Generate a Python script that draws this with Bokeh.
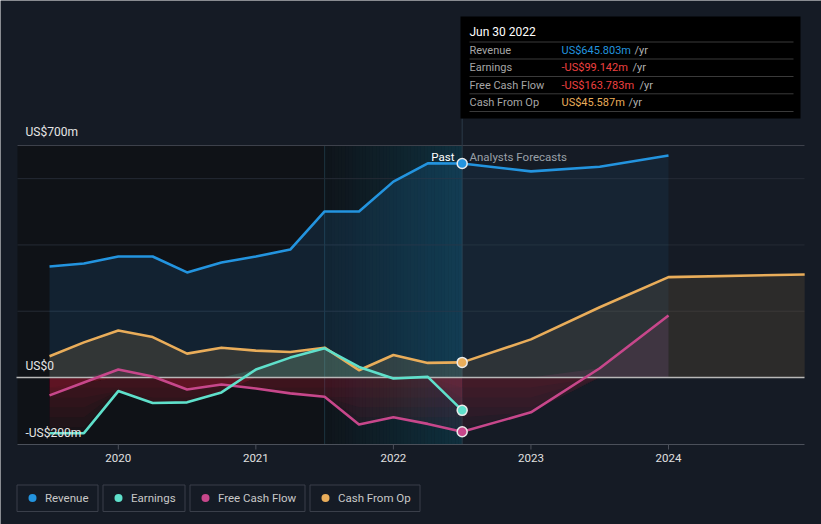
import numpy as np
from bokeh.plotting import figure
from bokeh.models import Range1d
from bokeh.embed import file_html
from bokeh.resources import INLINE
from bokeh.core.properties import value

# ---------------- data (US$ millions) ----------------
past_x = [2019.5, 2019.75, 2020.0, 2020.25, 2020.5, 2020.75, 2021.0,
          2021.25, 2021.5, 2021.75, 2022.0, 2022.25, 2022.5]
revenue_past = [335, 344, 365, 365, 317, 347, 365, 386, 501, 501, 591, 646, 645.803]
earnings_past = [-168, -168, -41, -77, -75, -45, 24, 60, 88, 32, -3, 2, -99.142]
fcf_past = [-54, -15, 24, 3, -36, -21, -33, -48, -58, -142, -120, -140, -163.783]
cfo_past = [64, 106, 142, 122, 72, 90, 81, 77, 90, 22, 68, 44, 45.587]

fc_x = [2022.5, 2023.0, 2023.5, 2024.0]
revenue_fc = [645.803, 622, 636, 670]
fcf_fc = [-163.783, -105, 28, 187]
cfo_fc_x = [2022.5, 2023.0, 2023.5, 2024.0, 2024.99]
cfo_fc = [45.587, 115, 212, 303, 311]

year_ticks = [2020, 2021, 2022, 2023, 2024]
year_labels = ["2020", "2021", "2022", "2023", "2024"]
y_label_vals = [700, 0, -200]
y_labels = ["US$700m", "US$0", "-US$200m"]
grid_vals = [200, 400, 600]

series_names = ["Revenue", "Earnings", "Free Cash Flow", "Cash From Op"]
tip_date = "Jun 30 2022"
tip_values = ["US$645.803m", "-US$99.142m", "-US$163.783m", "US$45.587m"]

# ---------------- style ----------------
BG = "#151b25"
PAST_BG = "#0f1217"
C_REV = "#2394df"
C_EARN = "#5fe0cb"
C_FCF = "#c7478b"
C_CFO = "#e9ad5a"
C_RED = "#c8283c"
FONT = value("Roboto")
colors = [C_REV, C_EARN, C_FCF, C_CFO]
tip_colors = [C_REV, "#ee4040", "#ee4040", C_CFO]

# pixel mapping helpers (page pixels -> data) used for layout placement
PX_2020 = 117.8
PX_PER_YEAR = 137.55
PY_ZERO = 377.0
PY_PER_M = 232.0 / 700.0


def X(px):
    return 2020 + (px - PX_2020) / PX_PER_YEAR


def Y(py):
    return (PY_ZERO - py) / PY_PER_M


W, H = 821, 524
L, R = X(17), X(804)          # plot area horizontal extent
B = Y(444)                    # plot area bottom (axis line)

p = figure(width=W, height=H, x_range=Range1d(X(0), X(W)), y_range=Range1d(Y(H), Y(0)),
           output_backend="svg", toolbar_location=None,
           x_axis_location=None, y_axis_location=None, min_border=0,
           background_fill_color=BG, border_fill_color=BG, outline_line_color=None)
p.grid.visible = False

# past region background
p.quad(left=[L], right=[past_x[-1]], bottom=[B], top=[700], fill_color=PAST_BG, line_color=None)

# highlighted last-year band (horizontal gradient)
n = 40
band_l, band_r = past_x[-5], past_x[-1]
b_left = np.array([band_l + i * (band_r - band_l) / n for i in range(n)])
b_right = b_left + (band_r - band_l) / n
b_alpha = [0.02 + 0.24 * (i + 1) / n for i in range(n)]
p.quad(left=b_left, right=b_right, bottom=B, top=700, fill_color="#0f86ad",
       fill_alpha=b_alpha, line_color=None)
p.segment(x0=[band_l], x1=[band_l], y0=[B], y1=[700], line_color="#1d3440", line_width=1)

# gridlines
p.segment(x0=L, x1=R, y0=grid_vals, y1=grid_vals, line_color="#252b35", line_width=1)
p.segment(x0=[L], x1=[R], y0=[700], y1=[700], line_color="#3d414b", line_width=1)

# hover line
p.segment(x0=[band_r], x1=[band_r], y0=[B], y1=[Y(118)], line_color="#2b3a48", line_width=1)


def pos(v):
    return np.maximum(np.array(v, dtype=float), 0)


def neg(v):
    return np.minimum(np.array(v, dtype=float), 0)


# area fills
p.varea(x=past_x, y1=0, y2=pos(revenue_past), fill_color=C_REV, fill_alpha=0.13)
p.varea(x=fc_x, y1=0, y2=pos(revenue_fc), fill_color=C_REV, fill_alpha=0.08)
p.varea(x=past_x, y1=0, y2=pos(cfo_past), fill_color=C_CFO, fill_alpha=0.15)
p.varea(x=cfo_fc_x, y1=0, y2=pos(cfo_fc), fill_color=C_CFO, fill_alpha=0.11)
p.varea(x=past_x, y1=0, y2=pos(earnings_past), fill_color=C_EARN, fill_alpha=0.15)
p.varea(x=past_x, y1=0, y2=pos(fcf_past), fill_color=C_FCF, fill_alpha=0.12)
p.varea(x=fc_x, y1=0, y2=pos(fcf_fc), fill_color=C_FCF, fill_alpha=0.12)
for series_x, series in [(past_x, earnings_past), (past_x, fcf_past), (fc_x, fcf_fc)]:
    nv = neg(series)
    for k in range(1, 7):
        p.varea(x=series_x, y1=np.maximum(nv, -30 * k), y2=0, fill_color=C_RED, fill_alpha=0.05)

# zero line
p.segment(x0=[X(16)], x1=[R], y0=[0], y1=[0], line_color="#b8b8b8", line_width=1.5)

# lines
LW = 2.6
p.line(past_x, cfo_past, line_color=C_CFO, line_width=LW, line_join="round")
p.line(cfo_fc_x, cfo_fc, line_color=C_CFO, line_width=LW, line_join="round")
p.line(past_x, fcf_past, line_color=C_FCF, line_width=LW, line_join="round")
p.line(fc_x, fcf_fc, line_color=C_FCF, line_width=LW, line_join="round")
p.line(past_x, earnings_past, line_color=C_EARN, line_width=LW, line_join="round")
p.line(past_x, revenue_past, line_color=C_REV, line_width=LW, line_join="round")
p.line(fc_x, revenue_fc, line_color=C_REV, line_width=LW, line_join="round")

# end-of-past markers
last_vals = [revenue_past[-1], earnings_past[-1], fcf_past[-1], cfo_past[-1]]
p.scatter(x=[past_x[-1]] * 4, y=last_vals, size=10, fill_color=colors,
          line_color="#eaeaea", line_width=1.5)

# x axis (line, ticks, labels on the data scale)
p.segment(x0=[L], x1=[R], y0=[B], y1=[B], line_color="#4b505a", line_width=1)
p.segment(x0=year_ticks, x1=year_ticks, y0=B, y1=Y(449), line_color="#4b505a", line_width=1)
p.text(x=year_ticks, y=Y(457), text=year_labels, text_color="#e0e0e0", text_font=FONT,
       text_font_size="11.5px", text_align="center", text_baseline="middle")

# y labels (sit just above their level)
p.text(x=[X(25)] * 3, y=y_label_vals, text=y_labels, text_color="#e6e6e6",
       text_font=FONT, text_font_size="12px", text_baseline="middle", y_offset=[-14, -12, -11])

# Past / Analysts Forecasts
p.text(x=[X(454)], y=[Y(156)], text=["Past"], text_color="#ffffff", text_font=FONT,
       text_font_size="11.5px", text_align="right", text_baseline="middle")
p.text(x=[X(469)], y=[Y(156)], text=["Analysts Forecasts"], text_color="#9aa0a8", text_font=FONT,
       text_font_size="11.5px", text_align="left", text_baseline="middle")

# tooltip
p.quad(left=[X(460)], right=[X(800)], top=[Y(16)], bottom=[Y(118)], fill_color="#000000", line_color=None)
p.text(x=[X(469)], y=[Y(31)], text=[tip_date], text_color="#ffffff", text_font=FONT,
       text_font_size="12px", text_baseline="middle")
sep_py = [41.5, 58.5, 76, 93.3, 111]
p.segment(x0=[X(469)] * 5, x1=[X(793)] * 5, y0=[Y(v) for v in sep_py], y1=[Y(v) for v in sep_py],
          line_color="#3a3a3a", line_width=1)
row_py = [49.5, 67, 84.5, 102]
p.text(x=[X(469)] * 4, y=[Y(v) for v in row_py], text=series_names, text_color="#a6a6a6",
       text_font=FONT, text_font_size="11px", text_baseline="middle")
p.text(x=[X(561)] * 4, y=[Y(v) for v in row_py], text=tip_values, text_color=tip_colors,
       text_font=FONT, text_font_size="11px", text_baseline="middle")
yr_px = [634, 632, 639, 628]
p.text(x=[X(v) for v in yr_px], y=[Y(v) for v in row_py], text=["/yr"] * 4, text_color="#b0b0b0",
       text_font=FONT, text_font_size="11px", text_baseline="middle")

# legend (bordered chips)
box_px_left = [16.5, 102.5, 189.5, 309.5]
box_px_right = [97.5, 184.5, 304.5, 419.5]
p.quad(left=[X(v) for v in box_px_left], right=[X(v) for v in box_px_right],
       top=Y(484.5), bottom=Y(511), fill_color=None, line_color="#3a3f4a", line_width=1)
p.scatter(x=[X(v + 15.5) for v in box_px_left], y=[Y(497.5)] * 4, size=8,
          fill_color=colors, line_color=None)
p.text(x=[X(v + 28) for v in box_px_left], y=[Y(497.5)] * 4, text=series_names,
       text_color="#c8c8c8", text_font=FONT, text_font_size="11.5px", text_baseline="middle")

open("out.html", "w").write(file_html(p, INLINE))
